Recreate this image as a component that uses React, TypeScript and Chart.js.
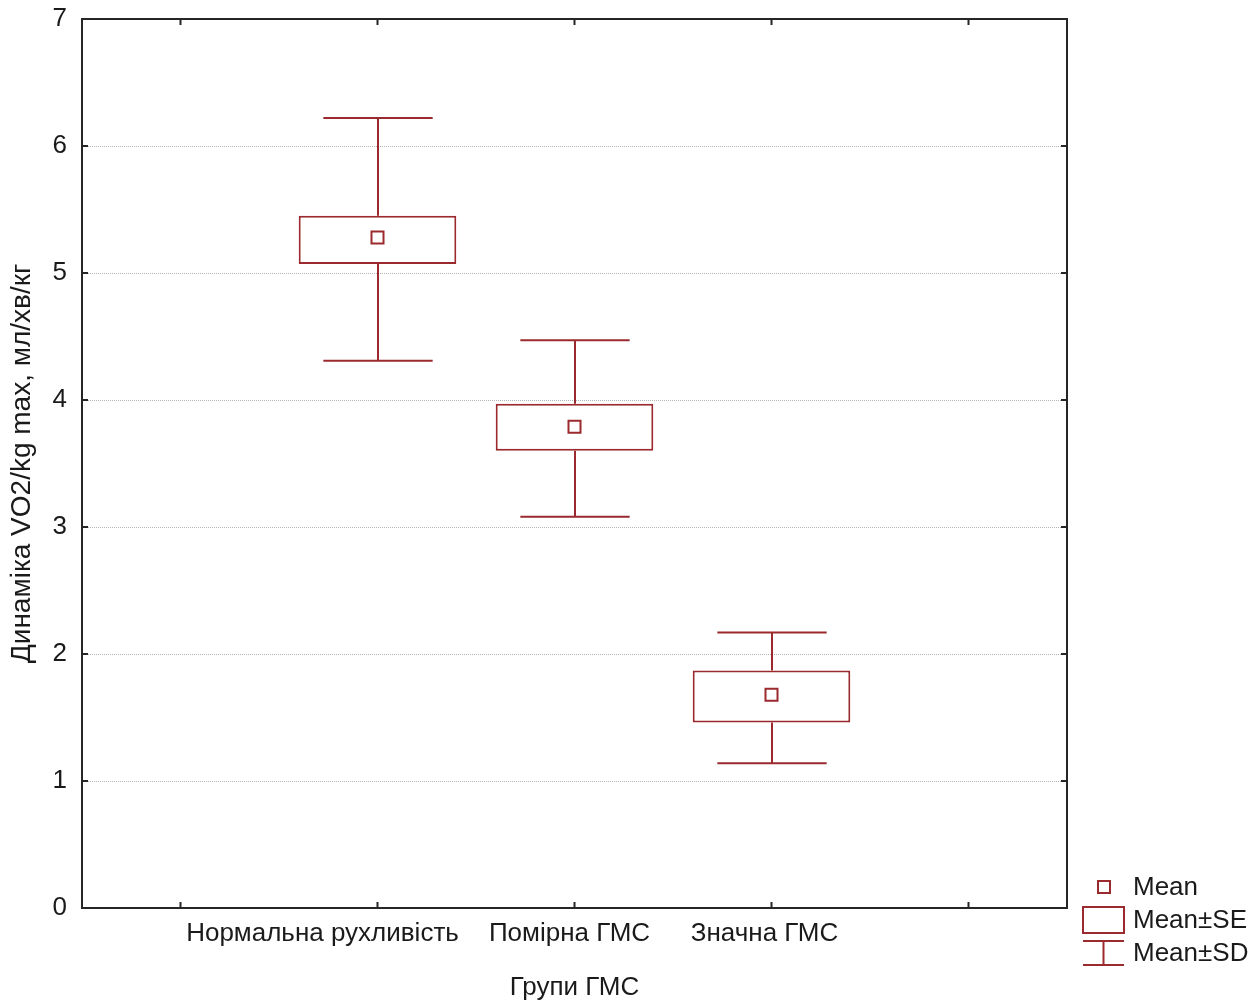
import React, { useRef, useEffect } from 'react';
import { Chart, registerables } from 'chart.js';
Chart.register(...registerables);

const groups = ['Нормальна рухливість', 'Помірна ГМС', 'Значна ГМС'];
const means = [5.28, 3.79, 1.68];
const seLow = [5.07, 3.6, 1.46];
const seHigh = [5.45, 3.97, 1.87];
const sdLow = [4.31, 3.08, 1.14];
const sdHigh = [6.22, 4.47, 2.17];
const yTicks = [0, 1, 2, 3, 4, 5, 6, 7];
const legendItems = ['Mean', 'Mean±SE', 'Mean±SD'];
const yTitle = 'Динаміка VO2/kg max, мл/хв/кг';
const xTitle = 'Групи ГМС';

const COLOR = '#9b2a2e';
const FAMILY = '"Liberation Sans", Arial, sans-serif';
const TEXT = '#1a1a1a';
const FS = 26;
// horizontal nudges of the category labels (layout only)
const labelShift = [-55, -5, -7];

const boxPlugin = {
  id: 'boxPlugin',
  beforeDatasetsDraw(chart: any) {
    const { ctx, chartArea: a, scales } = chart;
    const x = scales.x, y = scales.y;
    ctx.save();
    ctx.strokeStyle = '#b4b4b4';
    ctx.lineWidth = 1;
    ctx.setLineDash([1, 1]);
    yTicks.forEach((v) => {
      if (v === yTicks[0] || v === yTicks[yTicks.length - 1]) return;
      const py = Math.round(y.getPixelForValue(v)) + 0.5;
      ctx.beginPath();
      ctx.moveTo(a.left, py);
      ctx.lineTo(a.right, py);
      ctx.stroke();
    });
    ctx.setLineDash([]);
    const catW = x.getPixelForValue(1) - x.getPixelForValue(0);
    const half = catW * 0.555 / 2;
    ctx.strokeStyle = COLOR;
    ctx.lineWidth = 2;
    groups.forEach((_, i) => {
      const px = Math.round(x.getPixelForValue(i + 1));
      const yH = y.getPixelForValue(sdHigh[i]);
      const yL = y.getPixelForValue(sdLow[i]);
      const sH = y.getPixelForValue(seHigh[i]);
      const sL = y.getPixelForValue(seLow[i]);
      ctx.beginPath();
      ctx.moveTo(px, yH); ctx.lineTo(px, sH);
      ctx.moveTo(px, sL); ctx.lineTo(px, yL);
      ctx.moveTo(px - half, yH); ctx.lineTo(px + half, yH);
      ctx.moveTo(px - half, yL); ctx.lineTo(px + half, yL);
      ctx.stroke();
    });
    ctx.restore();
  },
  afterDraw(chart: any) {
    const { ctx, chartArea: a, scales } = chart;
    const x = scales.x, y = scales.y;
    ctx.save();
    ctx.strokeStyle = '#262626';
    ctx.lineWidth = 2;
    ctx.strokeRect(a.left, a.top, a.right - a.left, a.bottom - a.top);
    const tl = 6;
    ctx.beginPath();
    yTicks.forEach((v) => {
      const py = y.getPixelForValue(v);
      ctx.moveTo(a.left, py); ctx.lineTo(a.left + tl, py);
      ctx.moveTo(a.right, py); ctx.lineTo(a.right - tl, py);
    });
    for (let i = 0; i < groups.length + 2; i++) {
      const px = x.getPixelForValue(i);
      ctx.moveTo(px, a.bottom); ctx.lineTo(px, a.bottom - tl);
      ctx.moveTo(px, a.top); ctx.lineTo(px, a.top + tl);
    }
    ctx.stroke();

    ctx.fillStyle = TEXT;
    ctx.font = `${FS}px ${FAMILY}`;
    ctx.textAlign = 'center';
    ctx.textBaseline = 'middle';
    groups.forEach((g, i) => {
      ctx.fillText(g, x.getPixelForValue(i + 1) + labelShift[i], a.bottom + 26);
    });

    const lx = a.right + 16;
    const sym = 41;
    const tx = lx + 50;
    const rows = [a.bottom - 21, a.bottom + 12, a.bottom + 45];
    ctx.strokeStyle = COLOR;
    ctx.lineWidth = 2;
    ctx.strokeRect(lx + sym / 2 - 5.5, rows[0] - 6, 12, 12);
    ctx.strokeRect(lx, rows[1] - 13, sym, 26);
    ctx.beginPath();
    ctx.moveTo(lx, rows[2] - 12); ctx.lineTo(lx + sym, rows[2] - 12);
    ctx.moveTo(lx + sym / 2, rows[2] - 12); ctx.lineTo(lx + sym / 2, rows[2] + 12);
    ctx.moveTo(lx, rows[2] + 12); ctx.lineTo(lx + sym, rows[2] + 12);
    ctx.stroke();
    ctx.fillStyle = TEXT;
    ctx.textAlign = 'left';
    legendItems.forEach((t, i) => ctx.fillText(t, tx, rows[i] + 1));
    ctx.restore();
  },
};

export default function App() {
  const ref = useRef<HTMLCanvasElement>(null);
  useEffect(() => {
    document.body.style.margin = '0';
    const pad = (arr: any[]) => [null, ...arr, null];
    const chart = new Chart(ref.current as HTMLCanvasElement, {
      type: 'bar',
      data: {
        labels: ['', ...groups, ''],
        datasets: [
          {
            type: 'bar',
            label: 'Mean±SE',
            data: pad(groups.map((_, i) => [seLow[i], seHigh[i]])),
            backgroundColor: '#ffffff',
            borderColor: COLOR,
            borderWidth: 2,
            borderSkipped: false,
            barPercentage: 0.8,
            categoryPercentage: 1,
            order: 2,
          } as any,
          {
            type: 'line',
            label: 'Mean',
            data: pad(means),
            showLine: false,
            pointStyle: 'rect',
            pointRadius: 8.5,
            pointBackgroundColor: '#ffffff',
            pointBorderColor: COLOR,
            pointBorderWidth: 2,
            order: 1,
          } as any,
        ],
      },
      options: {
        animation: false,
        responsive: false,
        maintainAspectRatio: false,
        layout: { padding: { left: 0, top: 19, right: 191, bottom: 0 } },
        plugins: { legend: { display: false }, tooltip: { enabled: false } },
        scales: {
          x: {
            offset: true,
            grid: { display: false, offset: false, drawTicks: false },
            border: { display: false },
            ticks: { display: false },
            title: { display: true, text: xTitle, font: { family: FAMILY, size: FS }, color: TEXT, padding: { top: 0, bottom: 3 } },
            afterFit: (s: any) => { s.height = 98; s.paddingLeft = 0; s.paddingRight = 0; },
          },
          y: {
            min: 0,
            max: 7,
            grid: { display: false, drawTicks: false },
            border: { display: false },
            ticks: { stepSize: 1, font: { family: FAMILY, size: FS }, color: TEXT, padding: 15 },
            title: { display: true, text: yTitle, font: { family: FAMILY, size: 28 }, color: TEXT, padding: { top: 5, bottom: 0 } },
            afterFit: (s: any) => { s.width = 82; s.paddingTop = 0; s.paddingBottom = 0; },
          },
        },
      },
      plugins: [boxPlugin],
    });
    return () => chart.destroy();
  }, []);
  return (
    <div style={{ position: 'absolute', left: 0, top: 0, width: 1258, height: 1006, background: '#fff' }}>
      <canvas ref={ref} width={1258} height={1006} style={{ display: 'block', width: 1258, height: 1006 }} />
    </div>
  );
}
